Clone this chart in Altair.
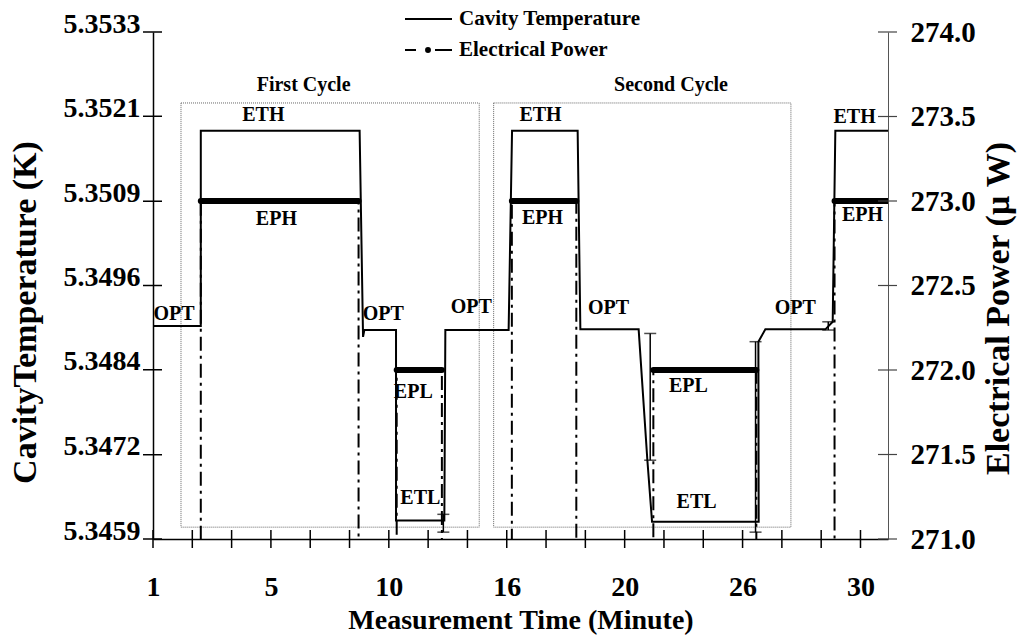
import altair as alt
import pandas as pd

# ---- axes -------------------------------------------------------------
# Time is placed in units of the minor ticks along the bottom axis;
# every third tick carries a minute label.
tick_positions = list(range(0, 19))
label_positions = [0, 3, 6, 9, 12, 15, 18]
tick_labels = ["1", "5", "10", "16", "20", "26", "30"]
x_domain = [0, 18.7]

temp_domain = [5.34594, 5.35334]
temp_ticks = [5.34594, 5.34717, 5.34841, 5.34964, 5.35087, 5.35211, 5.35334]
power_domain = [271.0, 274.0]
power_ticks = [271.0, 271.5, 272.0, 272.5, 273.0, 273.5, 274.0]

# ---- cavity temperature trace (K) --------------------------------------
temp_time = [0.0, 1.216, 1.216, 5.257, 5.344, 5.377, 6.183, 6.183, 7.412,
             7.438, 9.048, 9.135, 10.804, 10.873, 12.356, 12.578, 12.697,
             15.41, 15.402, 15.58, 17.107, 17.293, 17.36, 18.84]
temp_value = [5.34905, 5.34905, 5.35190, 5.35190, 5.34889, 5.34899, 5.34899,
              5.34621, 5.34621, 5.34899, 5.34899, 5.35190, 5.35190, 5.34900,
              5.34900, 5.34709, 5.34619, 5.34619, 5.34882, 5.34900, 5.34900,
              5.34911, 5.35190, 5.35190]

# error bars on the temperature transitions
err_time = [7.387, 12.65, 15.33, 17.18]
err_low = [5.34604, 5.34709, 5.34604, 5.34899]
err_high = [5.34630, 5.34894, 5.34882, 5.34911]

# ---- electrical heater power (uW) --------------------------------------
heater_on = [1.216, 6.20, 9.13, 12.73, 17.34]
heater_off = [5.23, 7.35, 10.77, 15.35, 18.76]
heater_level = [273.0, 272.0, 273.0, 272.0, 273.0]
heater_idle = 0.0  # heater switched off during the optical phases

# ---- annotations --------------------------------------------------------
cycle_names = ["First Cycle", "Second Cycle"]
cycle_start = [0.712, 8.667]
cycle_end = [8.30, 16.23]
cycle_low = [271.07, 271.07]
cycle_high = [273.58, 273.58]
cycle_label_x = [3.832, 13.18]
cycle_label_y = [273.685, 273.685]

phase_labels = ["OPT", "ETH", "EPH", "OPT", "EPL", "ETL", "OPT", "ETH", "EPH",
                "OPT", "EPL", "ETL", "OPT", "ETH", "EPH"]
phase_x = [0.534, 2.807, 3.140, 5.860, 6.623, 6.802, 8.099, 9.860, 9.911,
           11.59, 13.62, 13.83, 16.34, 17.85, 18.05]
phase_y = [272.330, 273.507, 272.892, 272.330, 271.870, 271.241, 272.371,
           273.507, 272.898, 272.364, 271.904, 271.217, 272.364, 273.495,
           272.915]

legend_names = ["Cavity Temperature", "Electrical Power"]

# ---- tables -------------------------------------------------------------
temp_df = pd.DataFrame({"i": range(len(temp_time)), "t": temp_time, "T": temp_value})

power_rows = [(0.0, heater_idle)]
for on, off, lvl in zip(heater_on, heater_off, heater_level):
    power_rows += [(on, heater_idle), (on, lvl), (off, lvl), (off, heater_idle)]
power_df = pd.DataFrame(power_rows, columns=["t", "P"])
power_df["i"] = range(len(power_df))

plateau_df = pd.DataFrame({"t0": heater_on, "t1": heater_off, "P": heater_level})

err_df = pd.DataFrame({"t": err_time, "lo": err_low, "hi": err_high})
cap_df = pd.DataFrame({"t": err_time * 2, "T": err_low + err_high})

box_df = pd.DataFrame({"name": cycle_names, "x0": cycle_start, "x1": cycle_end,
                       "y0": cycle_low, "y1": cycle_high})
cycle_text_df = pd.DataFrame({"name": cycle_names, "x": cycle_label_x, "y": cycle_label_y})
phase_df = pd.DataFrame({"label": phase_labels, "x": phase_x, "y": phase_y})

W, H = 735, 507
FONT = "Liberation Serif"

xs = alt.Scale(domain=x_domain, nice=False, zero=False)
ts = alt.Scale(domain=temp_domain, nice=False, zero=False)
ps = alt.Scale(domain=power_domain, nice=False, zero=False)

# minute label for each labelled tick position
label_expr = "''"
for pos, lab in reversed(list(zip(label_positions, tick_labels))):
    label_expr = f"datum.value == {pos} ? '{lab}' : ({label_expr})"

x_axis = alt.Axis(values=label_positions, labelExpr=label_expr, ticks=False,
                  tickSize=0, labelPadding=56, labelBaseline="alphabetic",
                  labelFontSize=28, labelFlush=False, labelOverlap=False,
                  domainColor="black", domainWidth=1.5,
                  title="Measurement Time (Minute)", titleFontSize=28,
                  titleX=W / 2, titleY=89, titleAlign="center",
                  titleBaseline="alphabetic")

temp_axis = alt.Axis(orient="left", values=temp_ticks, format=".4f", ticks=False,
                     tickSize=0, labelPadding=13, labelBaseline="alphabetic",
                     labelFontSize=28, labelOverlap=False, domainColor="black",
                     domainWidth=1.5, title="CavityTemperature (K)",
                     titleFontSize=34, titleAngle=270, titleX=-118, titleY=280,
                     titleAlign="center", titleBaseline="alphabetic")

power_axis = alt.Axis(orient="right", values=power_ticks, format=".1f", ticks=False,
                      tickSize=0, labelPadding=22, labelBaseline="middle",
                      labelFontSize=29, labelOverlap=False, domainColor="#555555",
                      domainWidth=1, title="Electrical Power  (\u03bc W)",
                      titleFontSize=34, titleAngle=270, titleX=120, titleY=276,
                      titleAlign="center", titleBaseline="alphabetic")

boxes = alt.Chart(box_df).mark_rect(fillOpacity=0, stroke="#666666", strokeWidth=1,
                                    strokeDash=[1, 1]).encode(
    x=alt.X("x0:Q", scale=xs, axis=None), x2="x1:Q",
    y=alt.Y("y0:Q", scale=ps, axis=None), y2="y1:Q")

temp_line = alt.Chart(temp_df).mark_line(color="black", strokeWidth=2, clip=True).encode(
    x=alt.X("t:Q", scale=xs, axis=x_axis),
    y=alt.Y("T:Q", scale=ts, axis=temp_axis),
    order="i:Q")

power_line = alt.Chart(power_df).mark_line(color="black", strokeWidth=2,
                                           strokeDash=[14, 5, 3, 5], clip=True).encode(
    x=alt.X("t:Q", scale=xs, axis=None),
    y=alt.Y("P:Q", scale=ps, axis=power_axis),
    order="i:Q")

plateaus = alt.Chart(plateau_df).mark_rule(color="black", strokeWidth=6,
                                           strokeCap="round", clip=True).encode(
    x=alt.X("t0:Q", scale=xs, axis=None), x2="t1:Q",
    y=alt.Y("P:Q", scale=ps, axis=None))

err_rules = alt.Chart(err_df).mark_rule(color="black", strokeWidth=1.5).encode(
    x=alt.X("t:Q", scale=xs, axis=None),
    y=alt.Y("lo:Q", scale=ts, axis=None), y2="hi:Q")

err_caps = alt.Chart(cap_df).mark_tick(color="black", orient="horizontal", size=12,
                                       thickness=1.5).encode(
    x=alt.X("t:Q", scale=xs, axis=None),
    y=alt.Y("T:Q", scale=ts, axis=None))

cycle_text = alt.Chart(cycle_text_df).mark_text(font=FONT, fontWeight="bold", fontSize=20,
                                                color="black", baseline="middle").encode(
    x=alt.X("x:Q", scale=xs, axis=None),
    y=alt.Y("y:Q", scale=ps, axis=None),
    text="name:N")

phase_text = alt.Chart(phase_df).mark_text(font=FONT, fontWeight="bold", fontSize=20,
                                           color="black", baseline="middle").encode(
    x=alt.X("x:Q", scale=xs, axis=None),
    y=alt.Y("y:Q", scale=ps, axis=None),
    text="label:N")

# ticks that cross the axis lines
x_ticks = alt.Chart(pd.DataFrame({"t": tick_positions})).mark_rule(
    color="black", strokeWidth=1.5).encode(
    x=alt.X("t:Q", scale=xs, axis=None), y=alt.value(H - 9), y2=alt.value(H + 9))

left_ticks = alt.Chart(pd.DataFrame({"v": temp_ticks})).mark_rule(
    color="black", strokeWidth=1.5).encode(
    y=alt.Y("v:Q", scale=ts, axis=None), x=alt.value(-10), x2=alt.value(9))

right_ticks = alt.Chart(pd.DataFrame({"v": power_ticks})).mark_rule(
    color="#444444", strokeWidth=1.2).encode(
    y=alt.Y("v:Q", scale=ps, axis=None), x=alt.value(W - 10), x2=alt.value(W + 9))

# legend
leg_temp_df = pd.DataFrame({"name": [legend_names[0]]})
leg_power_df = pd.DataFrame({"name": [legend_names[1]]})

leg_temp_line = alt.Chart(leg_temp_df).mark_rule(color="black", strokeWidth=2).encode(
    x=alt.value(252), x2=alt.value(299), y=alt.value(-13))
leg_temp_text = alt.Chart(leg_temp_df).mark_text(
    font=FONT, fontWeight="bold", fontSize=21, align="left", baseline="middle",
    color="black").encode(x=alt.value(306), y=alt.value(-13), text="name:N")

leg_power_line = alt.Chart(leg_power_df).mark_rule(
    color="black", strokeWidth=2, strokeDash=[11, 19, 17]).encode(
    x=alt.value(252), x2=alt.value(299), y=alt.value(18))
leg_power_dot = alt.Chart(leg_power_df).mark_point(
    filled=True, color="black", size=35, opacity=1).encode(
    x=alt.value(275), y=alt.value(18))
leg_power_text = alt.Chart(leg_power_df).mark_text(
    font=FONT, fontWeight="bold", fontSize=21, align="left", baseline="middle",
    color="black").encode(x=alt.value(306), y=alt.value(18), text="name:N")

chart = alt.layer(
    boxes, temp_line, power_line, plateaus, err_rules, err_caps,
    cycle_text, phase_text, x_ticks, left_ticks, right_ticks,
    leg_temp_line, leg_temp_text, leg_power_line, leg_power_dot, leg_power_text,
).resolve_scale(y="independent").resolve_axis(x="independent").properties(
    width=W, height=H,
    autosize=alt.AutoSizeParams(type="none"),
    padding={"left": 153, "top": 32, "right": 136, "bottom": 99},
    background="white",
).configure_view(strokeWidth=0).configure_axis(
    labelFont=FONT, titleFont=FONT, labelFontWeight="bold", titleFontWeight="bold",
    labelColor="black", titleColor="black", grid=False,
)

chart.save("out.html", embed_options={"renderer": "svg", "actions": False})
